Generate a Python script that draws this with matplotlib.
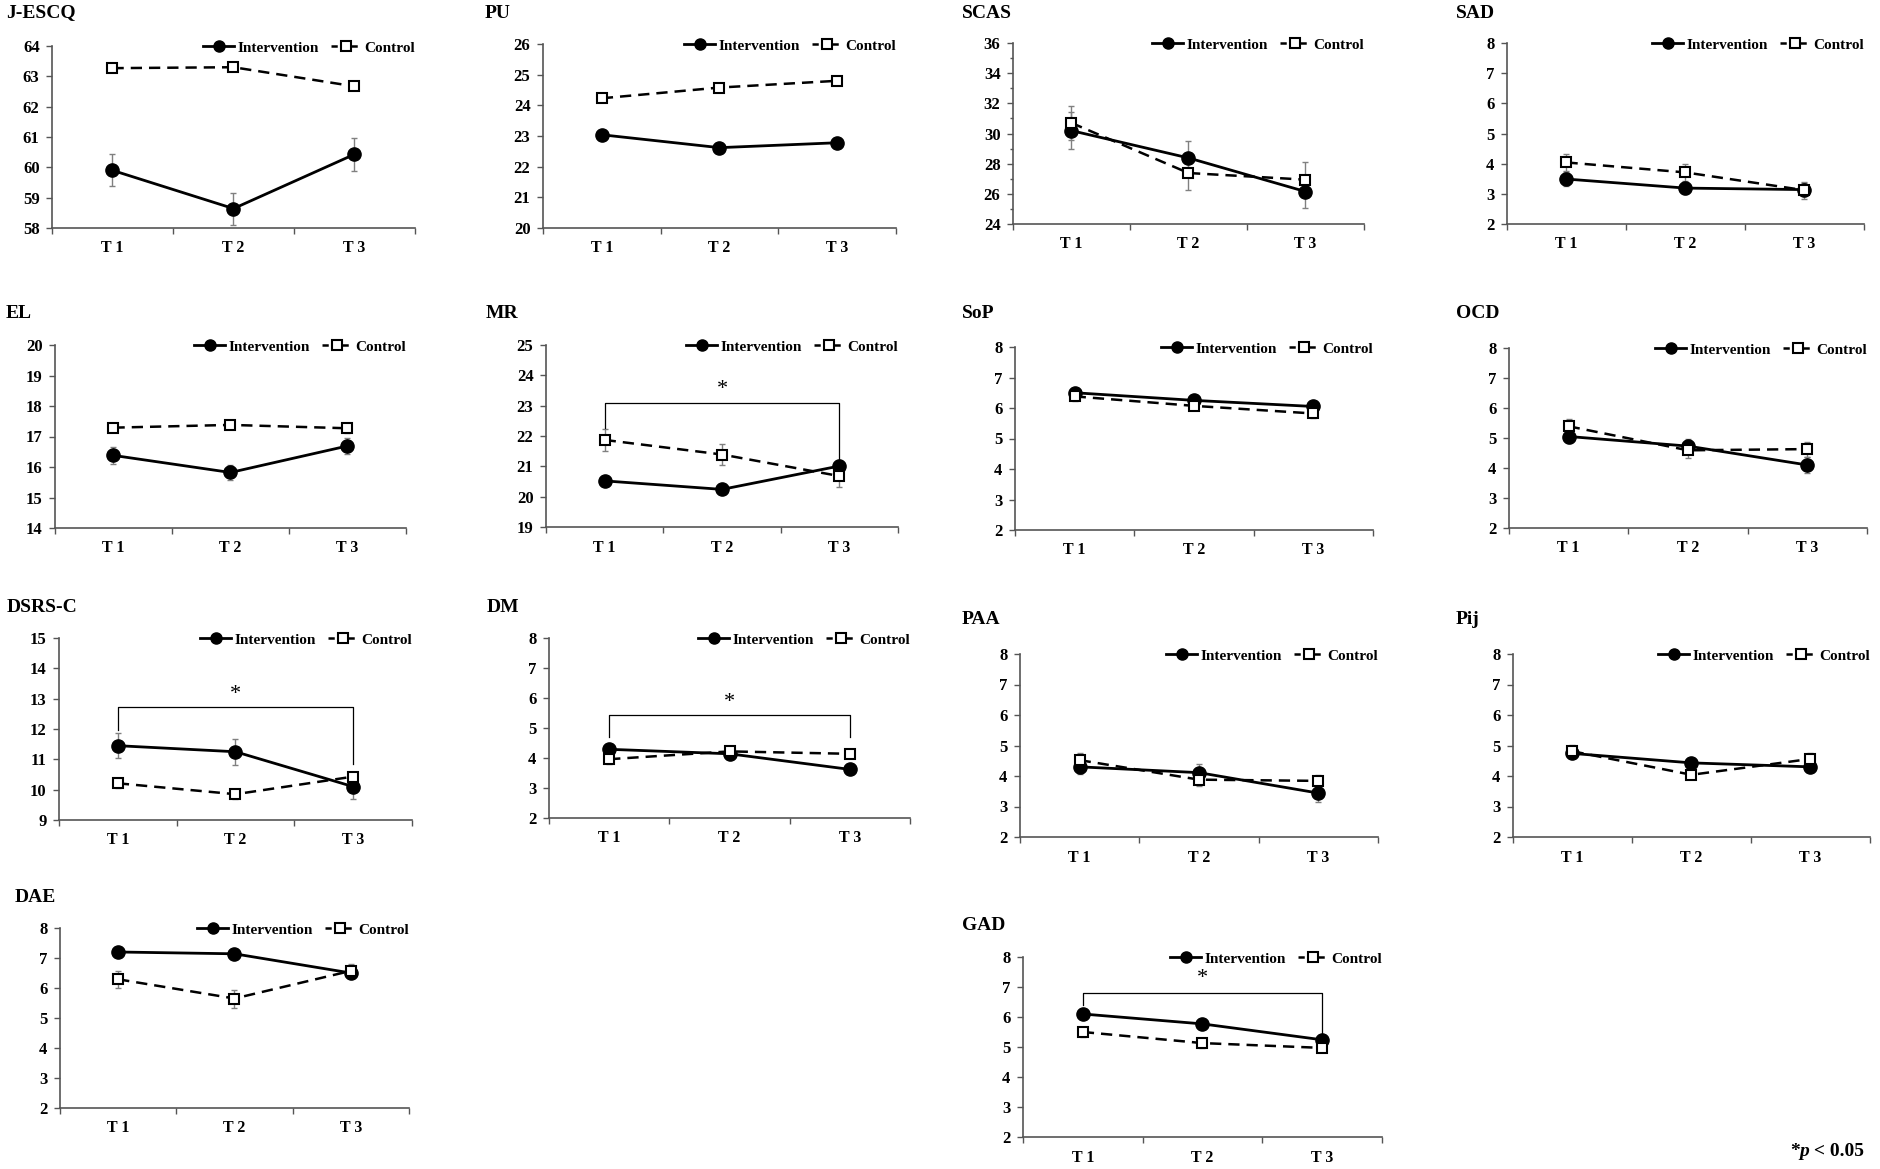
import matplotlib.pyplot as plt
from matplotlib.lines import Line2D

plt.rcParams['font.family'] = ['Liberation Serif', 'DejaVu Serif']
plt.rcParams['font.weight'] = 'bold'

# ---- data ----
timepoints = ['T 1', 'T 2', 'T 3']
panel_names = ['J-ESCQ', 'PU', 'SCAS', 'SAD',
               'EL', 'MR', 'SoP', 'OCD',
               'DSRS-C', 'DM', 'PAA', 'Pij',
               'DAE', 'GAD']

interv_mean = [[59.9, 58.64, 60.43], [23.04, 22.62, 22.78], [30.19, 28.38, 26.15], [3.49, 3.19, 3.14],
               [16.38, 15.82, 16.69], [20.52, 20.24, 21.01], [6.5, 6.25, 6.05], [5.05, 4.73, 4.1],
               [11.45, 11.25, 10.1], [4.29, 4.14, 3.62], [4.3, 4.11, 3.44], [4.74, 4.43, 4.3],
               [7.2, 7.14, 6.5], [6.1, 5.77, 5.24]]
control_mean = [[63.27, 63.3, 62.67], [24.23, 24.58, 24.8], [30.7, 27.38, 26.94], [4.04, 3.71, 3.12],
                [17.29, 17.38, 17.27], [21.87, 21.39, 20.68], [6.38, 6.07, 5.82], [5.39, 4.59, 4.63],
                [10.21, 9.85, 10.43], [3.96, 4.22, 4.14], [4.52, 3.88, 3.84], [4.81, 4.04, 4.56],
                [6.29, 5.65, 6.57], [5.5, 5.13, 4.97]]
interv_err = [[0.53, 0.53, 0.55], [0.1, 0.1, 0.1], [1.25, 1.15, 1.1], [0.22, 0.2, 0.22],
              [0.27, 0.25, 0.25], [0.15, 0.15, 0.2], [0.15, 0.15, 0.15], [0.22, 0.25, 0.27],
              [0.41, 0.43, 0.4], [0.15, 0.15, 0.15], [0.22, 0.27, 0.3], [0.15, 0.15, 0.15],
              [0.15, 0.15, 0.15], [0.15, 0.15, 0.15]]
control_err = [[0.12, 0.12, 0.12], [0.1, 0.1, 0.1], [1.1, 1.15, 1.15], [0.28, 0.28, 0.28],
               [0.15, 0.15, 0.15], [0.35, 0.36, 0.36], [0.15, 0.15, 0.15], [0.24, 0.25, 0.25],
               [0.15, 0.15, 0.15], [0.15, 0.15, 0.15], [0.24, 0.2, 0.2], [0.2, 0.15, 0.2],
               [0.28, 0.3, 0.24], [0.15, 0.15, 0.15]]
y_min = [58, 20, 24, 2, 14, 19, 2, 2, 9, 2, 2, 2, 2, 2]
y_max = [64, 26, 36, 8, 20, 25, 8, 8, 15, 8, 8, 8, 8, 8]
y_step = [1, 1, 2, 1, 1, 1, 1, 1, 1, 1, 1, 1, 1, 1]

# significance brackets: panel, bar height, left drop, right drop, star height
sig_panels = ['MR', 'DSRS-C', 'DM', 'GAD']
sig_bar = [23.1, 12.71, 5.44, 6.8]
sig_left = [22.25, 11.98, 4.7, 6.41]
sig_right = [21.05, 10.86, 4.7, 5.41]
sig_star = [23.53, 13.14, 5.84, 7.27]

# ---- layout in pixels: left, right, top, bottom of plot area; title x, y ----
W, H = 1881, 1169
boxes = [(52, 415, 46, 228), (543, 896, 44, 228), (1013, 1364, 43, 224), (1507, 1864, 43, 224),
         (55, 406, 345, 528), (546, 898, 345, 527), (1015, 1373, 347, 530), (1509, 1867, 348, 528),
         (59, 412, 638, 820), (549, 910, 638, 818), (1020, 1378, 654, 837), (1513, 1870, 654, 837),
         (60, 409, 928, 1108), (1023, 1382, 957, 1137)]
titles_xy = [(6, 13), (485, 13), (962, 13), (1456, 13),
             (6, 314), (486, 314), (962, 314), (1456, 314),
             (7, 607), (487, 607), (962, 620), (1456, 620),
             (15, 897), (962, 925)]

fig = plt.figure(figsize=(W / 100, H / 100), dpi=100)
x = [1, 2, 3]
axis_col = '#555555'

for i, name in enumerate(panel_names):
    l, r, t, b = boxes[i]
    ax = fig.add_axes([l / W, 1 - b / H, (r - l) / W, (b - t) / H])

    ax.errorbar(x, interv_mean[i], yerr=interv_err[i], fmt='none', ecolor='#808080',
                elinewidth=1, capsize=2.5, capthick=1, zorder=1)
    ax.errorbar(x, control_mean[i], yerr=control_err[i], fmt='none', ecolor='#808080',
                elinewidth=1, capsize=2.5, capthick=1, zorder=1)
    ax.plot(x, interv_mean[i], '-', color='black', lw=2, marker='o', ms=9.5, zorder=3)
    ax.plot(x, control_mean[i], linestyle=(0, (4.5, 2.8)), color='black', lw=1.8,
            marker='s', ms=7.5, mfc='white', mec='black', mew=1.5, zorder=4)

    ax.set_xlim(0.5, 3.5)
    ax.set_ylim(y_min[i], y_max[i])
    ax.set_yticks(range(y_min[i], y_max[i] + 1, y_step[i]))
    if y_step[i] > 1:
        ax.set_yticks(range(y_min[i], y_max[i] + 1), minor=True)
        ax.tick_params(axis='y', which='minor', length=2.5, width=1, color=axis_col)
    ax.set_xticks(x)
    ax.set_xticklabels(timepoints)
    ax.set_xticks([0.5, 1.5, 2.5, 3.5], minor=True)
    ax.tick_params(axis='x', which='major', length=0, pad=9, labelsize=11.5)
    ax.tick_params(axis='x', which='minor', length=4, width=1, color=axis_col)
    ax.tick_params(axis='y', which='major', length=4, width=1, color=axis_col,
                   pad=5, labelsize=12)
    for lab in ax.get_xticklabels() + ax.get_yticklabels():
        lab.set_fontweight('bold')

    for side in ['top', 'right']:
        ax.spines[side].set_visible(False)
    for side in ['left', 'bottom']:
        ax.spines[side].set_color(axis_col)
        ax.spines[side].set_linewidth(1.2)
    ax.patch.set_alpha(0)

    handles = [Line2D([], [], color='black', lw=2, marker='o', ms=8),
               Line2D([], [], color='black', lw=1.8, linestyle=(0, (2.5, 1.5)),
                      marker='s', ms=6.5, mfc='white', mec='black', mew=1.5)]
    ax.legend(handles, ['Intervention', 'Control'], loc='center right',
              bbox_to_anchor=(1.0, 0.99), ncol=2, frameon=False, handlelength=2.0,
              handletextpad=0.2, columnspacing=0.8, borderaxespad=0, borderpad=0,
              prop={'family': 'Liberation Serif', 'weight': 'bold', 'size': 11})

    tx, ty = titles_xy[i]
    fig.text(tx / W, 1 - ty / H, name, ha='left', va='center', fontsize=14, fontweight='bold')

    if name in sig_panels:
        k = sig_panels.index(name)
        ax.plot([1, 1, 3, 3], [sig_left[k], sig_bar[k], sig_bar[k], sig_right[k]],
                color='black', lw=0.9, zorder=2)
        ax.text(2, sig_star[k], '*', ha='center', va='center', fontsize=16,
                fontweight='normal')

# footnote "*p < 0.05", pieces chained so the p can be italic
t1 = fig.text(1790 / W, 1 - 1152 / H, '*', ha='left', va='center', fontsize=14, fontweight='bold')
a1 = ax.annotate('p', xy=(1, 0), xycoords=t1, ha='left', va='bottom',
                 fontsize=14, fontweight='bold', style='italic', annotation_clip=False)
a2 = ax.annotate(' < 0.05', xy=(1, 0), xycoords=a1, ha='left', va='bottom',
                 fontsize=14, fontweight='bold', annotation_clip=False)

fig.savefig('out.png', dpi=100)
